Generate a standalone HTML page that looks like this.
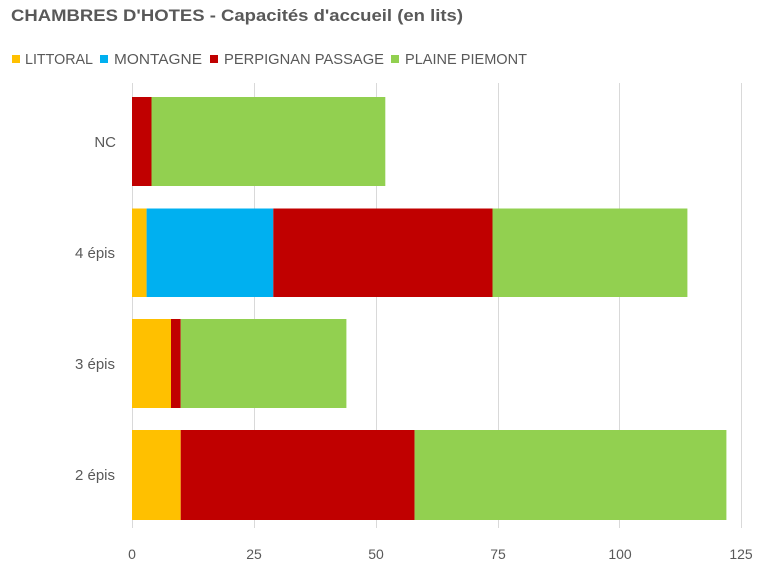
<!DOCTYPE html>
<html>
<head>
<meta charset="utf-8">
<style>
  html, body { margin:0; padding:0; background:#ffffff; }
  body { width:770px; height:579px; overflow:hidden; }
  svg { display:block; }
  text { font-family: "Liberation Sans", "DejaVu Sans", sans-serif; fill:#595959; }
</style>
</head>
<body>
<svg width="770" height="579" viewBox="0 0 770 579" xmlns="http://www.w3.org/2000/svg">
  <rect x="0" y="0" width="770" height="579" fill="#ffffff"/>

  <!-- Title -->
  <text x="11" y="21" font-size="17" font-weight="bold" textLength="452" lengthAdjust="spacingAndGlyphs">CHAMBRES D'HOTES - Capacités d'accueil (en lits)</text>

  <!-- Legend -->
  <rect x="12" y="55" width="8" height="8" fill="#FFC000"/>
  <text x="25" y="64" font-size="15" textLength="68" lengthAdjust="spacingAndGlyphs">LITTORAL</text>
  <rect x="100" y="55" width="8" height="8" fill="#00B0F0"/>
  <text x="114" y="64" font-size="15" textLength="88" lengthAdjust="spacingAndGlyphs">MONTAGNE</text>
  <rect x="210" y="55" width="8" height="8" fill="#C00000"/>
  <text x="224" y="64" font-size="15" textLength="160" lengthAdjust="spacingAndGlyphs">PERPIGNAN PASSAGE</text>
  <rect x="391" y="55" width="8" height="8" fill="#92D050"/>
  <text x="405" y="64" font-size="15" textLength="122" lengthAdjust="spacingAndGlyphs">PLAINE PIEMONT</text>

  <!-- Gridlines -->
  <g stroke="#D9D9D9" stroke-width="1">
    <line x1="132.5" y1="83" x2="132.5" y2="528"/>
    <line x1="254.5" y1="83" x2="254.5" y2="528"/>
    <line x1="376.5" y1="83" x2="376.5" y2="528"/>
    <line x1="498.5" y1="83" x2="498.5" y2="528"/>
    <line x1="619.5" y1="83" x2="619.5" y2="528"/>
    <line x1="741.5" y1="83" x2="741.5" y2="528"/>
  </g>

  <!-- Bars: NC -->
  <rect x="132" y="97" width="19.5" height="89" fill="#C00000"/>
  <rect x="151.5" y="97" width="233.8" height="89" fill="#92D050"/>

  <!-- Bars: 4 épis -->
  <rect x="132" y="208.5" width="14.6" height="88.5" fill="#FFC000"/>
  <rect x="146.6" y="208.5" width="126.7" height="88.5" fill="#00B0F0"/>
  <rect x="273.3" y="208.5" width="219.2" height="88.5" fill="#C00000"/>
  <rect x="492.5" y="208.5" width="194.9" height="88.5" fill="#92D050"/>

  <!-- Bars: 3 épis -->
  <rect x="132" y="319" width="39" height="89" fill="#FFC000"/>
  <rect x="171" y="319" width="9.7" height="89" fill="#C00000"/>
  <rect x="180.7" y="319" width="165.7" height="89" fill="#92D050"/>

  <!-- Bars: 2 épis -->
  <rect x="132" y="430" width="48.7" height="90" fill="#FFC000"/>
  <rect x="180.7" y="430" width="233.9" height="90" fill="#C00000"/>
  <rect x="414.6" y="430" width="311.8" height="90" fill="#92D050"/>

  <!-- Category labels -->
  <g font-size="15" text-anchor="end">
    <text x="116" y="147">NC</text>
    <text x="115" y="258">4 épis</text>
    <text x="115" y="369">3 épis</text>
    <text x="115" y="480">2 épis</text>
  </g>

  <!-- Value axis labels -->
  <g font-size="14" text-anchor="middle">
    <text x="132" y="559">0</text>
    <text x="254" y="559">25</text>
    <text x="376" y="559">50</text>
    <text x="498" y="559">75</text>
    <text x="620" y="559">100</text>
    <text x="741" y="559">125</text>
  </g>
</svg>
</body>
</html>
